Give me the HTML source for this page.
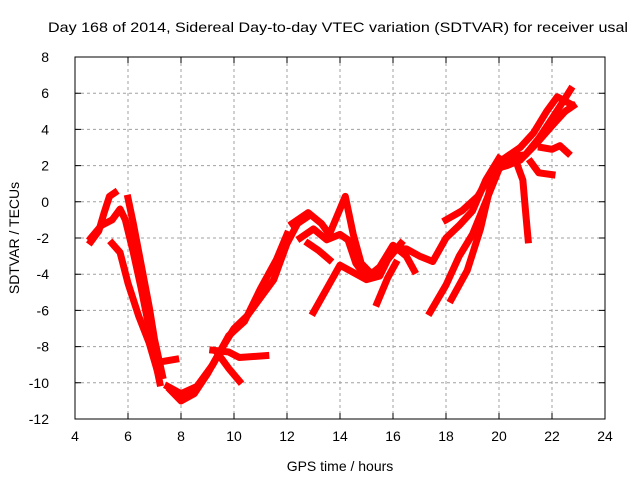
<!DOCTYPE html>
<html><head><meta charset="utf-8"><style>
html,body{margin:0;padding:0;background:#fff;}
svg{display:block;font-family:"Liberation Sans",sans-serif;}
</style></head><body>
<svg id="chart" width="640" height="480" viewBox="0 0 640 480">
<text x="48" y="32" font-size="14" textLength="580" lengthAdjust="spacingAndGlyphs" fill="#000">Day 168 of 2014, Sidereal Day-to-day VTEC variation (SDTVAR) for receiver usal</text>
<text x="340" y="471" font-size="14" text-anchor="middle">GPS time / hours</text>
<text transform="translate(19,238) rotate(-90)" font-size="14" text-anchor="middle">SDTVAR / TECUs</text>
<g id="grid"></g>
<g id="ticks"></g>
<g id="series"></g>
<rect x="75" y="57" width="530" height="362" fill="none" stroke="#000" stroke-width="1"/>
</svg>
<script>
const xTicks=[4,6,8,10,12,14,16,18,20,22,24];
const yTicks=[8,6,4,2,0,-2,-4,-6,-8,-10,-12];
const track1=[[4.6,-2.2],[4.9,-1.6],[5.1,-0.6],[5.3,0.3],[5.5,0.5]];
const track2=[[4.6,-2.0],[5.0,-1.3],[5.4,-1.0],[5.7,-0.4],[5.9,-1.0],[6.2,-2.8],[6.5,-4.8],[6.8,-7.0],[7.0,-8.6],[7.2,-10.0]];
const track3=[[6.0,0.2],[6.2,-1.2],[6.5,-3.5],[6.8,-5.8],[7.0,-7.6],[7.3,-9.6]];
const track4=[[5.4,-2.3],[5.7,-2.8],[6.0,-4.5],[6.4,-6.3],[6.8,-7.8],[7.1,-9.3]];
const track5=[[7.4,-8.8],[7.8,-8.7]];
const track6=[[7.6,-10.4],[8.0,-11.0],[8.5,-10.6],[9.0,-9.5],[9.5,-8.2],[10.0,-7.0],[10.5,-6.3],[11.0,-5.3],[11.5,-4.3],[12.0,-2.3],[12.4,-1.2],[12.8,-0.8]];
const track7=[[7.5,-10.2],[8.0,-10.6],[8.6,-10.2],[9.2,-9.0],[9.8,-7.4],[10.4,-6.6],[11.0,-4.8],[11.6,-3.2],[12.0,-1.8]];
const track8=[[9.2,-8.2],[9.8,-8.3],[10.2,-8.6],[11.2,-8.5]];
const track9=[[9.4,-8.4],[9.8,-9.2],[10.2,-9.9]];
const track10=[[12.2,-1.2],[12.8,-0.6],[13.3,-1.2],[13.6,-1.8],[14.0,-0.4],[14.2,0.3],[14.5,-1.8],[14.8,-3.4],[15.2,-4.0],[15.6,-3.6],[16.0,-2.6],[16.5,-2.6],[17.0,-3.0],[17.5,-3.3],[18.0,-2.0],[18.5,-1.3],[19.0,-0.5],[19.5,1.2],[20.0,2.4]];
const track11=[[12.5,-2.0],[13.0,-1.5],[13.5,-2.1],[14.0,-1.8],[14.3,-2.1],[14.6,-3.4],[15.0,-4.2],[15.5,-3.6],[16.0,-2.4],[16.5,-3.0],[16.8,-3.8]];
const track12=[[12.8,-2.3],[13.2,-2.7],[13.6,-3.2]];
const track13=[[13.0,-6.1],[13.5,-4.8],[14.0,-3.5],[14.5,-3.9],[15.0,-4.3],[15.5,-4.1],[15.8,-3.2],[16.3,-2.3]];
const track14=[[15.4,-5.6],[15.8,-4.2],[16.1,-3.4]];
const track15=[[17.4,-6.1],[18.0,-4.6],[18.5,-3.0],[19.0,-1.8],[19.5,0.0],[20.0,1.8],[20.5,2.5],[21.0,2.6],[21.5,3.5],[22.0,4.6],[22.4,5.5],[22.7,6.2]];
const track16=[[18.2,-5.4],[18.8,-3.8],[19.3,-1.5],[19.7,1.0],[20.2,2.4],[20.8,3.0],[21.3,3.8],[21.8,5.0],[22.2,5.8],[22.7,5.4]];
const track17=[[20.6,2.4],[20.9,1.2],[21.0,-0.5],[21.1,-2.1]];
const track18=[[21.2,2.2],[21.5,1.6],[22.0,1.5]];
const track19=[[21.6,3.0],[22.0,2.9],[22.3,3.1],[22.6,2.7]];
const track20=[[18.0,-1.0],[18.6,-0.5],[19.2,0.3],[19.8,1.8],[20.3,2.0],[20.8,2.3],[21.4,3.2],[22.0,4.2],[22.5,5.0],[22.8,5.3]];
const tracks=[track1,track2,track3,track4,track5,track6,track7,track8,track9,track10,track11,track12,track13,track14,track15,track16,track17,track18,track19,track20];
const X0=75,X1=605,Y0=57,Y1=419;
function sx(h){return X0+(h-4)/(24-4)*(X1-X0);}
function sy(v){return Y0+(8-v)/(8+12)*(Y1-Y0);}
const NS="http://www.w3.org/2000/svg";
const grid=document.getElementById('grid'),ticks=document.getElementById('ticks'),ser=document.getElementById('series');
xTicks.forEach(t=>{
 const x=sx(t);
 if(t>4&&t<24){const l=document.createElementNS(NS,'line');
 
 
 l.setAttribute('x1',x);l.setAttribute('x2',x);l.setAttribute('y1',Y0);l.setAttribute('y2',Y1);
 l.setAttribute('stroke','#a0a0a0');l.setAttribute('stroke-dasharray','3,3');grid.appendChild(l);}
 const tk=document.createElementNS(NS,'path');
 
 
 tk.setAttribute('d',`M${x},${Y1}v-6M${x},${Y0}v6`);tk.setAttribute('stroke','#000');ticks.appendChild(tk);
 const tx=document.createElementNS(NS,'text');
 
 
 tx.setAttribute('x',x);tx.setAttribute('y',441);tx.setAttribute('text-anchor','middle');tx.setAttribute('font-size','14');
 tx.textContent=t;ticks.appendChild(tx);
});
yTicks.forEach(t=>{
 const y=sy(t);
 if(t<8&&t>-12){const l=document.createElementNS(NS,'line');
 
 
 l.setAttribute('x1',X0);l.setAttribute('x2',X1);l.setAttribute('y1',y);l.setAttribute('y2',y);
 l.setAttribute('stroke','#a0a0a0');l.setAttribute('stroke-dasharray','3,3');grid.appendChild(l);}
 const tk=document.createElementNS(NS,'path');
 
 
 tk.setAttribute('d',`M${X0},${y}h6M${X1},${y}h-6`);tk.setAttribute('stroke','#000');ticks.appendChild(tk);
 const tx=document.createElementNS(NS,'text');
 
 
 tx.setAttribute('x',49);tx.setAttribute('y',y+5);tx.setAttribute('text-anchor','end');tx.setAttribute('font-size','14');
 tx.textContent=t;ticks.appendChild(tx);
});
tracks.forEach(tr=>{
 const p=document.createElementNS(NS,'polyline');
 
 
 p.setAttribute('points',tr.map(d=>sx(d[0])+','+sy(d[1])).join(' '));
 p.setAttribute('fill','none');p.setAttribute('stroke','#ff0000');p.setAttribute('stroke-width','7');
 p.setAttribute('stroke-linejoin','round');p.setAttribute('stroke-linecap','square');
 ser.appendChild(p);
});
</script>
</body></html>
